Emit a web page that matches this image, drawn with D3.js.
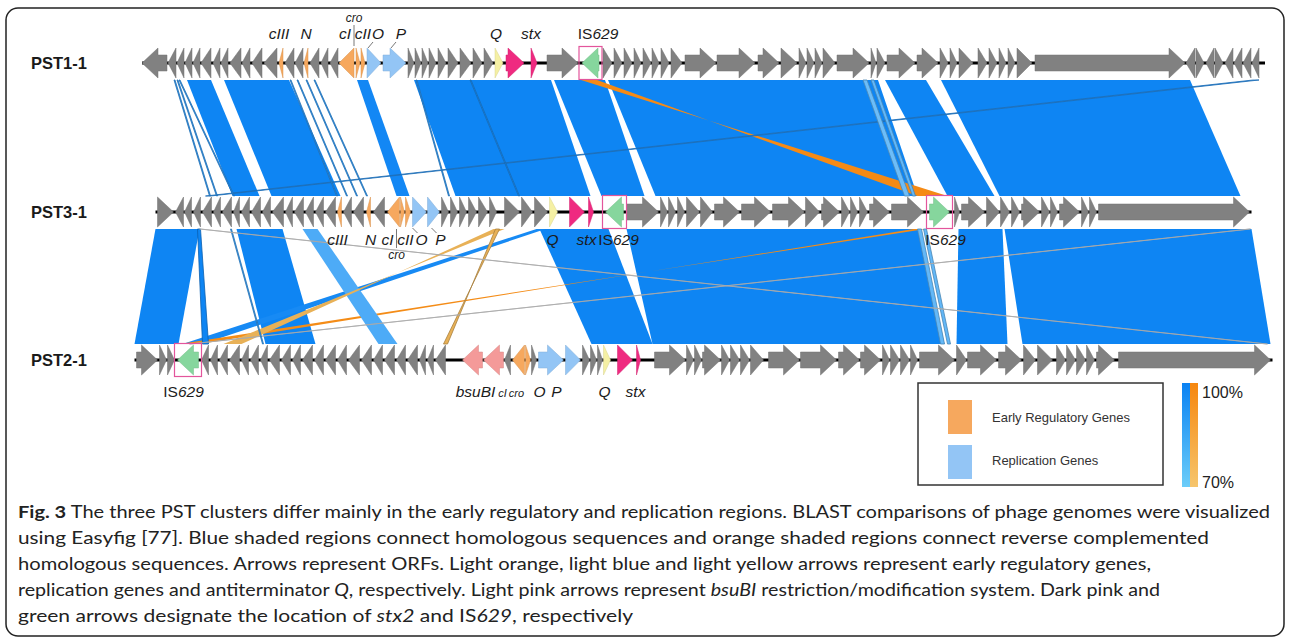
<!DOCTYPE html>
<html>
<head>
<meta charset="utf-8">
<script src="https://cdn.jsdelivr.net/npm/d3@7"></script>
<style>
  body { margin: 0; background: #fff; }
  svg { display: block; font-family: "Liberation Sans", Arial, sans-serif; }
</style>
</head>
<body>
<svg id="chart" width="1289" height="638"></svg>
<script>
// ---- data (positions in kb along each phage genome) ----
const trackNames = ['PST1-1', 'PST3-1', 'PST2-1'];
const trackLengths = [56.15, 54.8, 56.9];

// [start, end, strand, type]  g: other ORF, e: early regulatory, r: replication,
// q: antiterminator Q, s: stx2, i: IS629, b: bsuBI
const pst11Genes = [
    [0.00, 1.25, -1, 'g'], [1.30, 1.70, -1, 'g'], [1.75, 2.10, -1, 'g'], [2.15, 2.50, -1, 'g'],
    [2.55, 2.90, -1, 'g'], [2.95, 3.45, -1, 'g'], [3.55, 3.90, -1, 'g'], [3.95, 4.30, -1, 'g'],
    [4.40, 4.95, -1, 'g'], [5.00, 5.40, -1, 'g'], [5.50, 6.00, -1, 'g'], [6.10, 6.75, -1, 'g'],
    [6.85, 7.05, -1, 'e'], [7.15, 7.60, -1, 'g'], [7.65, 8.05, -1, 'g'], [8.10, 8.30, -1, 'e'],
    [8.40, 8.85, -1, 'g'], [8.95, 9.30, -1, 'g'], [9.40, 9.80, -1, 'g'], [9.85, 10.60, -1, 'e'],
    [10.70, 10.90, 1, 'e'], [10.95, 11.15, 1, 'e'], [11.25, 11.95, 1, 'r'], [12.05, 13.20, 1, 'r'],
    [13.30, 13.60, 1, 'g'], [13.65, 13.95, 1, 'g'], [14.00, 14.30, 1, 'g'], [14.35, 14.70, 1, 'g'],
    [14.80, 15.20, 1, 'g'], [15.30, 15.80, 1, 'g'], [15.90, 16.45, 1, 'g'], [16.55, 17.00, 1, 'g'],
    [17.10, 17.55, 1, 'g'], [17.65, 18.05, 1, 'q'], [18.20, 19.10, 1, 's'], [19.45, 19.75, 1, 's'],
    [20.25, 21.80, 1, 'g'], [22.00, 22.85, -1, 'i'], [23.05, 23.50, 1, 'g'], [23.60, 24.00, 1, 'g'],
    [24.10, 24.50, 1, 'g'], [24.60, 24.95, 1, 'g'], [25.05, 25.45, 1, 'g'], [25.50, 25.85, 1, 'g'],
    [25.95, 26.35, 1, 'g'], [26.45, 27.00, 1, 'g'], [27.15, 28.70, 1, 'g'], [28.75, 30.65, 1, 'g'],
    [30.80, 31.85, 1, 'g'], [31.95, 32.75, 1, 'g'], [32.85, 33.20, 1, 'g'], [33.25, 33.60, 1, 'g'],
    [33.65, 34.00, 1, 'g'], [34.05, 34.65, 1, 'g'], [34.75, 36.35, 1, 'g'], [36.45, 36.70, 1, 'g'],
    [36.75, 37.15, 1, 'g'], [37.25, 38.65, 1, 'g'], [38.75, 39.80, 1, 'g'], [39.90, 40.30, 1, 'g'],
    [40.40, 40.75, 1, 'g'], [40.85, 41.55, 1, 'g'], [41.80, 42.25, 1, 'g'], [42.35, 42.75, 1, 'g'],
    [42.85, 43.20, 1, 'g'], [43.30, 43.65, 1, 'g'], [43.75, 44.50, 1, 'g'], [44.65, 52.15, 1, 'g'],
    [52.20, 52.65, -1, 'g'], [52.70, 53.10, 1, 'g'], [53.20, 53.60, -1, 'g'], [53.65, 54.05, 1, 'g'],
    [54.15, 54.55, -1, 'g'], [54.60, 55.00, -1, 'g'], [55.05, 55.45, -1, 'g'], [55.50, 55.85, -1, 'g']
];

const pst31Genes = [
    [0.10, 0.90, 1, 'g'], [1.00, 1.40, -1, 'g'], [1.45, 1.80, -1, 'g'], [1.90, 2.25, -1, 'g'],
    [2.35, 2.80, -1, 'g'], [2.90, 3.25, -1, 'g'], [3.35, 3.80, -1, 'g'], [3.90, 4.20, -1, 'g'],
    [4.30, 4.70, -1, 'g'], [4.80, 5.25, -1, 'g'], [5.35, 5.75, -1, 'g'], [5.85, 6.40, -1, 'g'],
    [6.50, 6.85, -1, 'g'], [6.95, 7.40, -1, 'g'], [7.50, 7.90, -1, 'g'], [8.00, 8.40, -1, 'g'],
    [8.50, 9.00, -1, 'g'], [9.10, 9.30, -1, 'e'], [9.40, 9.80, -1, 'g'], [9.90, 10.40, -1, 'g'],
    [10.55, 10.75, -1, 'e'], [10.90, 11.45, -1, 'g'], [11.60, 12.20, -1, 'e'], [12.25, 12.45, 1, 'e'],
    [12.50, 12.75, 1, 'e'], [12.85, 13.55, 1, 'r'], [13.60, 14.20, 1, 'r'], [14.30, 14.65, 1, 'g'],
    [14.75, 15.10, 1, 'g'], [15.20, 15.55, 1, 'g'], [15.65, 16.05, 1, 'g'], [16.15, 16.60, 1, 'g'],
    [16.70, 17.05, 1, 'g'], [17.45, 18.20, 1, 'g'], [18.30, 18.85, 1, 'g'], [18.95, 19.60, 1, 'g'],
    [19.70, 20.10, 1, 'q'], [20.70, 21.45, 1, 's'], [21.65, 21.90, 1, 's'], [22.50, 23.40, -1, 'i'],
    [23.55, 25.15, 1, 'g'], [25.25, 25.60, 1, 'g'], [25.65, 26.00, 1, 'g'], [26.10, 26.45, 1, 'g'],
    [26.55, 27.20, 1, 'g'], [27.25, 27.85, 1, 'g'], [27.95, 29.20, 1, 'g'], [29.30, 30.75, 1, 'g'],
    [30.85, 32.45, 1, 'g'], [32.50, 33.20, 1, 'g'], [33.30, 34.20, 1, 'g'], [34.30, 34.70, 1, 'g'],
    [34.75, 35.10, 1, 'g'], [35.20, 35.60, 1, 'g'], [35.70, 36.70, 1, 'g'], [36.80, 38.40, 1, 'g'],
    [38.70, 39.70, 1, 'i'], [39.95, 40.20, 1, 'g'], [40.30, 41.45, 1, 'g'], [41.55, 42.20, 1, 'g'],
    [42.25, 42.70, 1, 'g'], [42.80, 43.20, 1, 'g'], [43.30, 44.20, 1, 'g'], [44.30, 44.70, 1, 'g'],
    [44.75, 45.10, 1, 'g'], [45.20, 46.20, 1, 'g'], [46.30, 46.65, 1, 'g'], [46.70, 47.05, 1, 'g'],
    [47.15, 54.70, 1, 'g']
];

const pst21Genes = [
    [0.10, 1.15, 1, 'g'], [1.25, 1.60, 1, 'g'], [1.65, 2.00, 1, 'g'], [2.15, 3.20, -1, 'i'],
    [3.35, 3.70, -1, 'g'], [3.80, 4.15, -1, 'g'], [4.25, 4.65, -1, 'g'], [4.75, 5.25, -1, 'g'],
    [5.35, 5.70, -1, 'g'], [5.80, 6.20, -1, 'g'], [6.30, 6.65, -1, 'g'], [6.75, 7.25, -1, 'g'],
    [7.35, 7.80, -1, 'g'], [7.90, 8.30, -1, 'g'], [8.40, 8.90, -1, 'g'], [9.00, 9.45, -1, 'g'],
    [9.55, 10.05, -1, 'g'], [10.15, 10.60, -1, 'g'], [10.70, 11.25, -1, 'g'], [11.35, 11.85, -1, 'g'],
    [11.95, 12.40, -1, 'g'], [12.50, 13.00, -1, 'g'], [13.10, 13.55, -1, 'g'], [13.65, 14.15, -1, 'g'],
    [14.25, 14.55, -1, 'g'], [14.65, 14.95, -1, 'g'], [15.05, 15.55, -1, 'g'], [16.40, 17.40, -1, 'b'],
    [17.45, 18.45, -1, 'b'], [18.50, 18.80, -1, 'g'], [18.90, 19.50, -1, 'e'], [19.55, 19.80, 1, 'e'],
    [19.85, 20.10, 1, 'g'], [20.20, 21.45, 1, 'r'], [21.55, 22.30, 1, 'r'], [22.40, 22.75, 1, 'g'],
    [22.80, 23.10, 1, 'g'], [23.15, 23.40, 1, 'g'], [23.45, 23.80, 1, 'q'], [24.15, 24.90, 1, 's'],
    [25.10, 25.30, 1, 's'], [26.00, 27.55, 1, 'g'], [27.60, 27.95, 1, 'g'], [28.00, 28.35, 1, 'g'],
    [28.40, 29.30, 1, 'g'], [29.35, 29.75, 1, 'g'], [29.80, 30.25, 1, 'g'], [30.30, 30.75, 1, 'g'],
    [30.80, 31.45, 1, 'g'], [31.70, 33.25, 1, 'g'], [33.30, 35.10, 1, 'g'], [35.20, 36.25, 1, 'g'],
    [36.30, 37.30, 1, 'g'], [37.40, 37.75, 1, 'g'], [37.80, 38.25, 1, 'g'], [38.30, 38.75, 1, 'g'],
    [38.80, 39.15, 1, 'g'], [39.25, 41.00, 1, 'g'], [41.10, 41.60, 1, 'g'], [41.65, 43.10, 1, 'g'],
    [43.20, 44.35, 1, 'g'], [44.45, 45.05, 1, 'g'], [45.15, 45.90, 1, 'g'], [46.10, 46.55, 1, 'g'],
    [46.60, 47.05, 1, 'g'], [47.10, 47.55, 1, 'g'], [47.60, 48.00, 1, 'g'], [48.10, 49.00, 1, 'g'],
    [49.20, 56.80, 1, 'g']
];

// BLAST hits: [upper start, upper end, lower start, lower end, % identity]
// lower start > lower end means a reverse complemented hit
const blastPst11Pst31 = [
    [2.25, 3.45, 3.85, 5.20, 99], [4.10, 7.35, 5.80, 9.25, 99], [10.75, 11.30, 12.05, 12.70, 98],
    [13.60, 20.45, 15.00, 21.75, 99], [20.60, 23.15, 22.30, 24.45, 99], [23.30, 36.80, 25.00, 38.10, 99],
    [37.15, 39.20, 39.60, 41.95, 99], [39.95, 52.40, 42.20, 54.25, 99],
    [1.60, 1.65, 2.70, 2.75, 92], [1.75, 1.80, 3.05, 3.10, 92], [1.85, 1.90, 3.90, 3.95, 92],
    [7.40, 7.45, 9.05, 9.10, 92], [7.75, 7.80, 9.55, 9.60, 92], [8.20, 8.25, 10.05, 10.10, 92],
    [8.60, 8.65, 10.55, 10.60, 92], [13.70, 13.75, 14.65, 14.70, 92], [16.40, 16.45, 18.15, 18.20, 95],
    [36.05, 36.25, 37.45, 37.70, 78], [36.45, 36.60, 37.85, 38.00, 80],
    [21.95, 22.75, 39.60, 38.10, 98], [55.55, 55.85, 2.50, 2.75, 93]
];

const blastPst31Pst21 = [
    [0.00, 2.20, 0.00, 2.20, 99], [2.10, 2.25, 3.40, 3.70, 99], [4.05, 6.35, 6.55, 9.05, 99],
    [7.35, 8.10, 12.20, 13.15, 85], [19.05, 19.50, 2.40, 3.40, 97],
    [19.20, 22.65, 22.85, 25.90, 99], [23.55, 38.10, 25.90, 40.50, 99], [40.15, 42.35, 41.10, 43.65, 99],
    [42.45, 54.80, 44.40, 56.80, 99], [3.75, 3.80, 6.40, 6.45, 90],
    [16.90, 17.45, 5.35, 4.45, 74], [17.00, 17.20, 15.65, 15.45, 74], [37.90, 38.50, 3.25, 2.25, 97],
    [38.10, 38.30, 40.30, 40.50, 80], [38.40, 38.55, 40.65, 40.80, 80],
    [2.20, 2.25, 56.60, 56.65, 70], [54.70, 54.75, 2.75, 2.80, 70]
];

// gene names [text, kb]
const pst11Labels = [['cIII', 6.85], ['N', 8.2], ['cI', 10.15], ['cII', 11.05], ['O', 11.8], ['P', 12.95],
                     ['Q', 17.7], ['stx', 19.45], ['IS629', 22.8]];
const pst11MinorLabels = [['cro', 10.6]];
const pst31Labels = [['cIII', 9.1], ['N', 10.75], ['cI', 11.6], ['cII', 12.5], ['O', 13.3], ['P', 14.25],
                     ['Q', 19.85], ['stx', 21.55], ['IS629', 23.15], ['IS629', 39.5]];
const pst31MinorLabels = [['cro', 12.05]];
const pst21Labels = [['IS629', 2.45], ['bsuBI', 17.05], ['O', 20.25], ['P', 21.1], ['Q', 23.5], ['stx', 25.05]];
const pst21MinorLabels = [['cI', 18.4], ['cro', 19.1]];

// label leader ticks [kb at label, kb at gene]
const pst11Leaders = [[10.6, 10.6], [11.55, 11.3], [12.7, 12.45]];
const pst31Leaders = [[12.05, 12.05], [13.1, 12.85], [14.05, 13.8]];
const pst21Leaders = [];

const legendItems = [['Early Regulatory Genes', 'e'], ['Replication Genes', 'r']];
const identityTicks = ['100%', '70%'];

const captionLines = [
    [['Fig. 3', 'b'], [' The three PST clusters differ mainly in the early regulatory and replication regions. BLAST comparisons of phage genomes were visualized', '']],
    [['using Easyfig [77]. Blue shaded regions connect homologous sequences and orange shaded regions connect reverse complemented', '']],
    [['homologous sequences. Arrows represent ORFs. Light orange, light blue and light yellow arrows represent early regulatory genes,', '']],
    [['replication genes and antiterminator ', ''], ['Q', 'i'], [', respectively. Light pink arrows represent ', ''], ['bsuBI', 'i'], [' restriction/modification system. Dark pink and', '']],
    [['green arrows designate the location of ', ''], ['stx2', 'i'], [' and IS', ''], ['629', 'i'], [', respectively', '']]
];

// ---- layout ----
const pxPerKb = 20,
      midX = 703.5,
      trackY = [63, 212, 360],
      arrowHalf = 15,
      bodyHalf = 8,
      headMax = 16;

const geneColors = {
    g: '#818181', e: '#f6a85e', r: '#93c5f5', q: '#f5f0a4',
    s: '#ef2a80', i: '#86d69d', b: '#f49a99'
};

const blueScale = d3.scaleLinear().domain([70, 100]).range(['#8fd3fb', '#0a82f3']);
const orangeScale = d3.scaleLinear().domain([70, 100]).range(['#e6b862', '#f6870f']);

const svg = d3.select('#chart');

svg.append('rect')
    .attr('x', 6).attr('y', 8)
    .attr('width', 1278).attr('height', 628)
    .attr('rx', 12)
    .attr('fill', 'none')
    .attr('stroke', '#222')
    .attr('stroke-width', 1.5);

const xScales = trackLengths.map((len) => d3.scaleLinear()
    .domain([0, len])
    .range([midX - len * pxPerKb / 2, midX + len * pxPerKb / 2]));

// ---- BLAST bands ----
[blastPst11Pst31, blastPst31Pst21].forEach((hits, i) => {
    const xt = xScales[i], xb = xScales[i + 1];
    const yt = trackY[i] + 17, yb = trackY[i + 1] - 16;

    const span = (d) => Math.max(Math.abs(xt(d[1]) - xt(d[0])), Math.abs(xb(d[3]) - xb(d[2])));
    const fill = (d) => d[4] <= 70 ? '#b9b9b9' : (d[2] > d[3] ? orangeScale(d[4]) : blueScale(d[4]));
    const sorted = hits.slice().sort((a, b) => span(b) - span(a)); // wide ones underneath

    svg.append('g')
        .classed('blast', true)
        .selectAll('polygon')
        .data(sorted)
        .join('polygon')
        .attr('points', (d) => [[xt(d[0]), yt], [xt(d[1]), yt], [xb(d[3]), yb], [xb(d[2]), yb]].join(' '))
        .attr('fill', fill)
        .attr('stroke', (d) => {
            if (span(d) > 8) return 'none';
            if (d[4] <= 70) return '#aaaaaa';
            return d3.color(fill(d)).darker(0.9);
        })
        .attr('stroke-width', (d) => span(d) > 8 ? 0 : 0.8);
});

// ---- genome tracks ----
let arrowPath = function (x0, x1, strand, cy) {
    const len = x1 - x0,
          head = Math.min(len, headMax);
    if (strand > 0) {
        const h = x1 - head;
        return `M${x0},${cy - bodyHalf}L${h},${cy - bodyHalf}L${h},${cy - arrowHalf}L${x1},${cy}` +
               `L${h},${cy + arrowHalf}L${h},${cy + bodyHalf}L${x0},${cy + bodyHalf}Z`;
    }
    const h = x0 + head;
    return `M${x1},${cy - bodyHalf}L${h},${cy - bodyHalf}L${h},${cy - arrowHalf}L${x0},${cy}` +
           `L${h},${cy + arrowHalf}L${h},${cy + bodyHalf}L${x1},${cy + bodyHalf}Z`;
};

const trackGenes = [pst11Genes, pst31Genes, pst21Genes];

trackGenes.forEach((genes, i) => {
    const x = xScales[i], cy = trackY[i];
    const g = svg.append('g').classed('track', true);

    g.append('text')
        .attr('x', 31)
        .attr('y', cy + 6)
        .attr('font-size', 16.5)
        .attr('font-weight', 'bold')
        .attr('fill', '#1a1a1a')
        .text(trackNames[i]);

    g.append('line')
        .attr('x1', x(0)).attr('x2', x(trackLengths[i]))
        .attr('y1', cy).attr('y2', cy)
        .attr('stroke', '#000')
        .attr('stroke-width', 3);

    g.selectAll('.gene')
        .data(genes)
        .join('path')
        .classed('gene', true)
        .attr('d', (d) => arrowPath(x(d[0]), x(d[1]), d[2], cy))
        .attr('fill', (d) => geneColors[d[3]])
        .attr('stroke', (d) => d3.color(geneColors[d[3]]).darker(0.35))
        .attr('stroke-width', 0.5);

    // IS629 boxes
    g.selectAll('.isbox')
        .data(genes.filter((d) => d[3] === 'i'))
        .join('rect')
        .classed('isbox', true)
        .attr('x', (d) => x(d[0]) - 3)
        .attr('y', cy - arrowHalf - 1.5)
        .attr('width', (d) => x(d[1]) - x(d[0]) + 6)
        .attr('height', arrowHalf * 2 + 3)
        .attr('fill', 'none')
        .attr('stroke', '#e3559c')
        .attr('stroke-width', 1.2);
});

// ---- gene names ----
const labelSets = [
    { main: pst11Labels, minor: pst11MinorLabels, leaders: pst11Leaders, y: 39, minorY: 22, minorSize: 12, leaderY: [25, 46], tickY: [42, 48] },
    { main: pst31Labels, minor: pst31MinorLabels, leaders: pst31Leaders, y: 245, minorY: 259, minorSize: 12, leaderY: [248, 229], tickY: [233, 228] },
    { main: pst21Labels, minor: pst21MinorLabels, leaders: pst21Leaders, y: 397, minorY: 397, minorSize: 11, leaderY: [0, 0], tickY: [0, 0] }
];

let addLabel = function (sel, text, size) {
    sel.attr('font-size', size).attr('fill', '#1b1b1b').attr('text-anchor', 'middle');
    if (text.startsWith('IS')) {
        sel.append('tspan').text('IS');
        sel.append('tspan').attr('font-style', 'italic').text(text.slice(2));
    } else {
        sel.attr('font-style', 'italic').text(text);
    }
};

labelSets.forEach((set, i) => {
    const x = xScales[i];
    const g = svg.append('g').classed('labels', true);

    set.main.forEach((d) => {
        addLabel(g.append('text').attr('x', x(d[1])).attr('y', set.y), d[0], 15.5);
    });
    set.minor.forEach((d) => {
        addLabel(g.append('text').attr('x', x(d[1])).attr('y', set.minorY), d[0], set.minorSize);
    });

    set.leaders.forEach((d, k) => {
        const ys = k === 0 ? set.leaderY : set.tickY;
        g.append('line')
            .attr('x1', x(d[0])).attr('y1', ys[0])
            .attr('x2', x(d[1])).attr('y2', ys[1])
            .attr('stroke', '#555')
            .attr('stroke-width', 0.8);
    });
});

// ---- legend ----
const legend = svg.append('g').classed('legend', true);

legend.append('rect')
    .attr('x', 918).attr('y', 383)
    .attr('width', 245).attr('height', 102)
    .attr('fill', '#fff')
    .attr('stroke', '#333')
    .attr('stroke-width', 1.5);

legendItems.forEach((d, k) => {
    legend.append('rect')
        .attr('x', 948).attr('y', 400 + k * 45)
        .attr('width', 24).attr('height', 34)
        .attr('fill', geneColors[d[1]]);
    legend.append('text')
        .attr('x', 992).attr('y', 422 + k * 43)
        .attr('font-size', 13)
        .attr('fill', '#333')
        .text(d[0]);
});

// identity colour bars
const defs = svg.append('defs');
[['blueGrad', blueScale], ['orangeGrad', orangeScale]].forEach(([id, sc]) => {
    const grad = defs.append('linearGradient')
        .attr('id', id)
        .attr('x1', 0).attr('y1', 0).attr('x2', 0).attr('y2', 1);
    grad.append('stop').attr('offset', '0%').attr('stop-color', sc(100));
    grad.append('stop').attr('offset', '100%').attr('stop-color', id === 'blueGrad' ? '#6ccdf9' : '#f6c56c');
});

legend.append('rect').attr('x', 1182).attr('y', 383).attr('width', 8).attr('height', 104).attr('fill', 'url(#blueGrad)');
legend.append('rect').attr('x', 1190).attr('y', 383).attr('width', 8).attr('height', 104).attr('fill', 'url(#orangeGrad)');

const tickY = d3.scaleLinear().domain([0, identityTicks.length - 1]).range([398, 488]);
legend.selectAll('.pct')
    .data(identityTicks)
    .join('text')
    .classed('pct', true)
    .attr('x', 1202)
    .attr('y', (d, k) => tickY(k))
    .attr('font-size', 16)
    .attr('fill', '#222')
    .text((d) => d);

// ---- caption ----
const captionWidths = [1252, 1191, 1133, 1142, 615];

const caption = svg.append('g')
    .classed('caption', true)
    .attr('font-family', 'Lato, "Open Sans", sans-serif')
    .attr('font-size', 17)
    .attr('fill', '#222');

captionLines.forEach((line, k) => {
    const t = caption.append('text')
        .attr('x', 18)
        .attr('y', 518 + k * 26)
        .attr('textLength', captionWidths[k])
        .attr('lengthAdjust', 'spacingAndGlyphs');
    line.forEach(([s, style]) => {
        const ts = t.append('tspan').text(s);
        if (style === 'b') ts.attr('font-weight', 'bold');
        if (style === 'i') ts.attr('font-style', 'italic');
    });
});
</script>
</body>
</html>
